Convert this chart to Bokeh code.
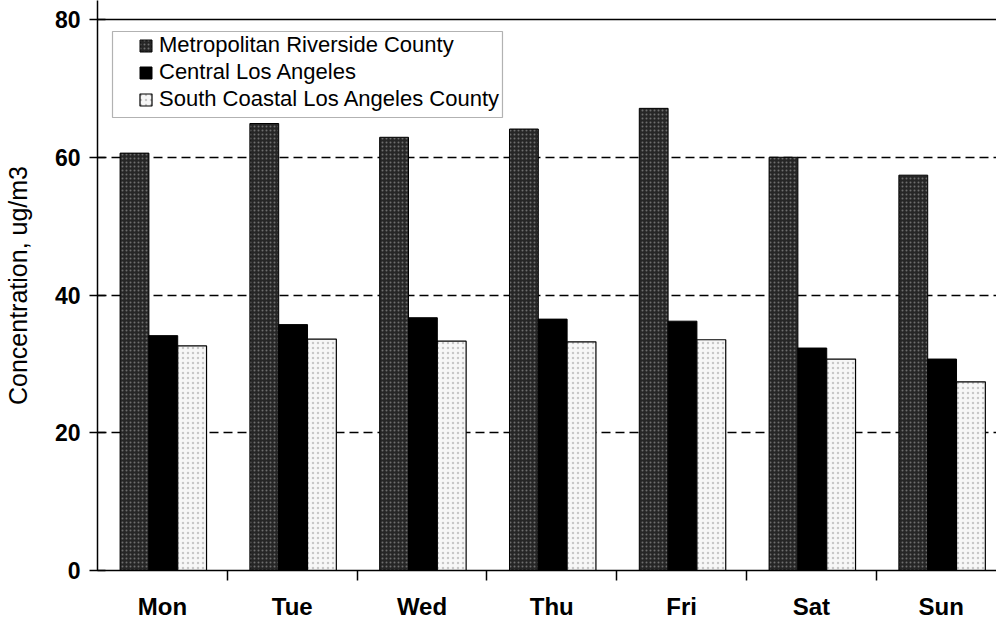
import numpy as np
from bokeh.plotting import figure
from bokeh.models import (ColumnDataSource, Range1d, FixedTicker, Span, Legend, LegendItem,
                          BoxAnnotation)
from bokeh.transform import dodge
from bokeh.embed import file_html
from bokeh.resources import INLINE

days = ["Mon", "Tue", "Wed", "Thu", "Fri", "Sat", "Sun"]
riverside = [60.6, 64.9, 62.9, 64.1, 67.1, 60.0, 57.4]
central = [34.1, 35.7, 36.7, 36.5, 36.2, 32.3, 30.7]
south = [32.6, 33.6, 33.3, 33.2, 33.5, 30.7, 27.4]
series_names = ["Metropolitan Riverside County", "Central Los Angeles",
                "South Coastal Los Angeles County"]
y_ticks = [0, 20, 40, 60, 80]

xpos = [i + 0.5 for i in range(len(days))]
src = ColumnDataSource(dict(x=xpos, riverside=riverside, central=central, south=south))

FONT = "Liberation Sans"

p = figure(width=996, height=622, output_backend="svg", toolbar_location=None,
           x_range=Range1d(0, 6.926), y_range=Range1d(0, 82.76),
           min_border_left=0, min_border_right=0, min_border_top=0,
           min_border_bottom=0)
p.background_fill_color = "white"
p.border_fill_color = "white"
p.outline_line_color = None

bw = 0.222
r1 = p.vbar(x=dodge("x", -0.215, range=p.x_range), top="riverside", width=bw, source=src,
            fill_color="#262626", line_color="black", line_width=1,
            hatch_pattern="dot", hatch_color="#6e6e6e", hatch_scale=4, hatch_weight=1)
r2 = p.vbar(x=dodge("x", 0.007, range=p.x_range), top="central", width=bw, source=src,
            fill_color="black", line_color="black", line_width=1)
r3 = p.vbar(x=dodge("x", 0.229, range=p.x_range), top="south", width=bw, source=src,
            fill_color="#f7f7f7", line_color="black", line_width=1.2,
            hatch_pattern="dot", hatch_color="#c8c8c8", hatch_scale=5, hatch_weight=1)

# top border line at 80
p.add_layout(Span(location=80, dimension="width", line_color="black", line_width=1.5))

# grid
p.xgrid.visible = False
p.ygrid.ticker = FixedTicker(ticks=[20, 40, 60])
p.ygrid.grid_line_color = "black"
p.ygrid.grid_line_dash = "9 5"
p.ygrid.grid_line_width = 1.5

# y axis
ya = p.yaxis[0]
ya.ticker = FixedTicker(ticks=y_ticks)
ya.axis_line_color = "black"
ya.axis_line_width = 1.5
ya.major_tick_in = 8
ya.major_tick_out = 8
ya.major_tick_line_width = 1.5
ya.minor_tick_line_color = None
ya.major_label_text_font = FONT
ya.major_label_text_font_size = "23px"
ya.major_label_text_font_style = "bold"
ya.major_label_text_color = "black"
ya.major_label_standoff = 9
ya.axis_label = "Concentration, ug/m3"
ya.axis_label_text_font = FONT
ya.axis_label_text_font_size = "25px"
ya.axis_label_text_font_style = "normal"
ya.axis_label_text_color = "black"
ya.axis_label_standoff = 20

# x axis: tick marks at category boundaries (minor), labels at centers
xa = p.xaxis[0]
xa.ticker = FixedTicker(ticks=xpos, minor_ticks=list(range(1, len(days))))
xa.major_label_overrides = {x: d for x, d in zip(xpos, days)}
xa.major_tick_line_color = None
xa.major_tick_in = 0
xa.major_tick_out = 10
xa.minor_tick_in = 0
xa.minor_tick_out = 10
xa.minor_tick_line_color = "black"
xa.minor_tick_line_width = 1.5
xa.axis_line_color = "black"
xa.axis_line_width = 1.5
xa.major_label_text_font = FONT
xa.major_label_text_font_size = "24px"
xa.major_label_text_font_style = "bold"
xa.major_label_text_color = "black"
xa.major_label_standoff = 12

legend = Legend(items=[LegendItem(label=series_names[0], renderers=[r1]),
                       LegendItem(label=series_names[1], renderers=[r2]),
                       LegendItem(label=series_names[2], renderers=[r3])],
                location="top_left", margin=0)
legend.location = (41, 458)
legend.border_line_color = None
legend.background_fill_alpha = 0
legend.label_text_font = FONT
legend.label_text_font_size = "22px"
legend.label_text_color = "black"
legend.glyph_width = 15
legend.glyph_height = 15
legend.label_height = 25
legend.label_standoff = 6
legend.spacing = 1
legend.padding = 0
p.add_layout(legend)

# legend frame
p.add_layout(BoxAnnotation(left=0.1156, right=3.12, top=78.26, bottom=65.77,
                           fill_alpha=0, line_color="black", line_width=1.2))

open("out.html", "w").write(file_html(p, INLINE))
